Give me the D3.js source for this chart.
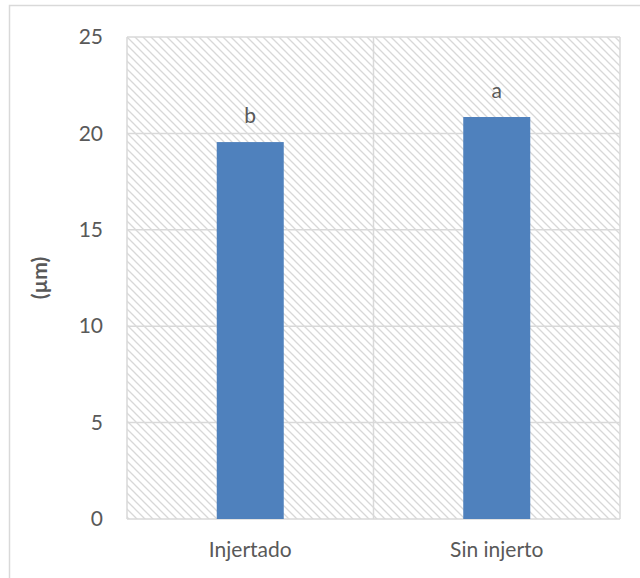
<!DOCTYPE html>
<html>
<head>
<meta charset="utf-8">
<script src="https://cdn.jsdelivr.net/npm/d3@7"></script>
<style>
  html, body { margin: 0; padding: 0; background: #fff; }
  svg { display: block; }
  text { font-family: Lato, "Open Sans", sans-serif; fill: #595959; }
</style>
</head>
<body>
<svg id="chart" width="640" height="578"></svg>
<script>
// Data
const categories = ["Injertado", "Sin injerto"];
const values = [19.55, 20.85];
const letters = ["b", "a"];
const yTicks = [0, 5, 10, 15, 20, 25];
const yTitle = "(µm)";

const svg = d3.select("#chart");
const W = 640, H = 578;
const margin = { left: 127, top: 37, right: 20, bottom: 59 };
const plotW = W - margin.left - margin.right;
const plotH = H - margin.top - margin.bottom;
const FONT = "Lato, Open Sans, sans-serif";
const FS = "21px";

// Outer chart border
svg.append("rect")
  .attr("x", 9.5).attr("y", 5.5)
  .attr("width", W).attr("height", H)
  .attr("fill", "#fff").attr("stroke", "#d9d9d9").attr("stroke-width", 1.5);

// Diagonal hatch fill for the plot area
const defs = svg.append("defs");
const pat = defs.append("pattern")
  .attr("id", "hatch")
  .attr("patternUnits", "userSpaceOnUse")
  .attr("width", 8).attr("height", 8);
pat.append("rect").attr("width", 8).attr("height", 8).attr("fill", "#fff");
pat.append("path")
  .attr("d", "M-2,-2 L10,10 M-2,6 L2,10 M6,-2 L10,2")
  .attr("stroke", "#d8d8d8").attr("stroke-width", 1.3);

const g = svg.append("g").attr("transform", `translate(${margin.left},${margin.top})`);

const x = d3.scaleBand().domain(categories).range([0, plotW]).paddingInner(0).paddingOuter(0);
const y = d3.scaleLinear().domain([0, 25]).range([plotH, 0]);

g.append("rect")
  .attr("width", plotW).attr("height", plotH)
  .attr("fill", "url(#hatch)");

// Horizontal gridlines
g.selectAll(".hgrid").data(yTicks).enter().append("line")
  .attr("x1", 0).attr("x2", plotW)
  .attr("y1", d => y(d)).attr("y2", d => y(d))
  .attr("stroke", "#d9d9d9").attr("stroke-width", 1.5);

// Vertical gridlines at category boundaries
const vBounds = [0, x(categories[1]), plotW];
g.selectAll(".vgrid").data(vBounds).enter().append("line")
  .attr("x1", d => d).attr("x2", d => d)
  .attr("y1", 0).attr("y2", plotH)
  .attr("stroke", "#d9d9d9").attr("stroke-width", 1.5);

// Bars
const barW = 67;
g.selectAll(".bar").data(values).enter().append("rect")
  .attr("x", (d, i) => x(categories[i]) + x.bandwidth() / 2 - barW / 2)
  .attr("y", d => y(d))
  .attr("width", barW)
  .attr("height", d => y(0) - y(d))
  .attr("fill", "#4f81bd");

// Significance letters
g.selectAll(".letter").data(values).enter().append("text")
  .attr("x", (d, i) => x(categories[i]) + x.bandwidth() / 2)
  .attr("y", d => y(d) - 19)
  .attr("text-anchor", "middle")
  .style("font-size", FS)
  .text((d, i) => letters[i]);

// Y axis
const yAxis = d3.axisLeft(y).tickValues(yTicks).tickSize(0).tickPadding(24);
const ya = g.append("g").call(yAxis);
ya.select(".domain").remove();
ya.selectAll("text").style("font-size", FS).attr("fill", "#595959")
  .attr("font-family", FONT);

// X axis
const xAxis = d3.axisBottom(x).tickSize(0).tickPadding(23);
const xa = g.append("g").attr("transform", `translate(0,${plotH})`).call(xAxis);
xa.select(".domain").remove();
xa.selectAll("text").style("font-size", FS).attr("fill", "#595959")
  .attr("font-family", FONT);

// Y axis title
svg.append("text")
  .attr("transform", `translate(47,${margin.top + plotH / 2}) rotate(-90)`)
  .attr("text-anchor", "middle")
  .style("font-size", FS)
  .style("font-weight", "bold")
  .text(yTitle);
</script>
</body>
</html>
